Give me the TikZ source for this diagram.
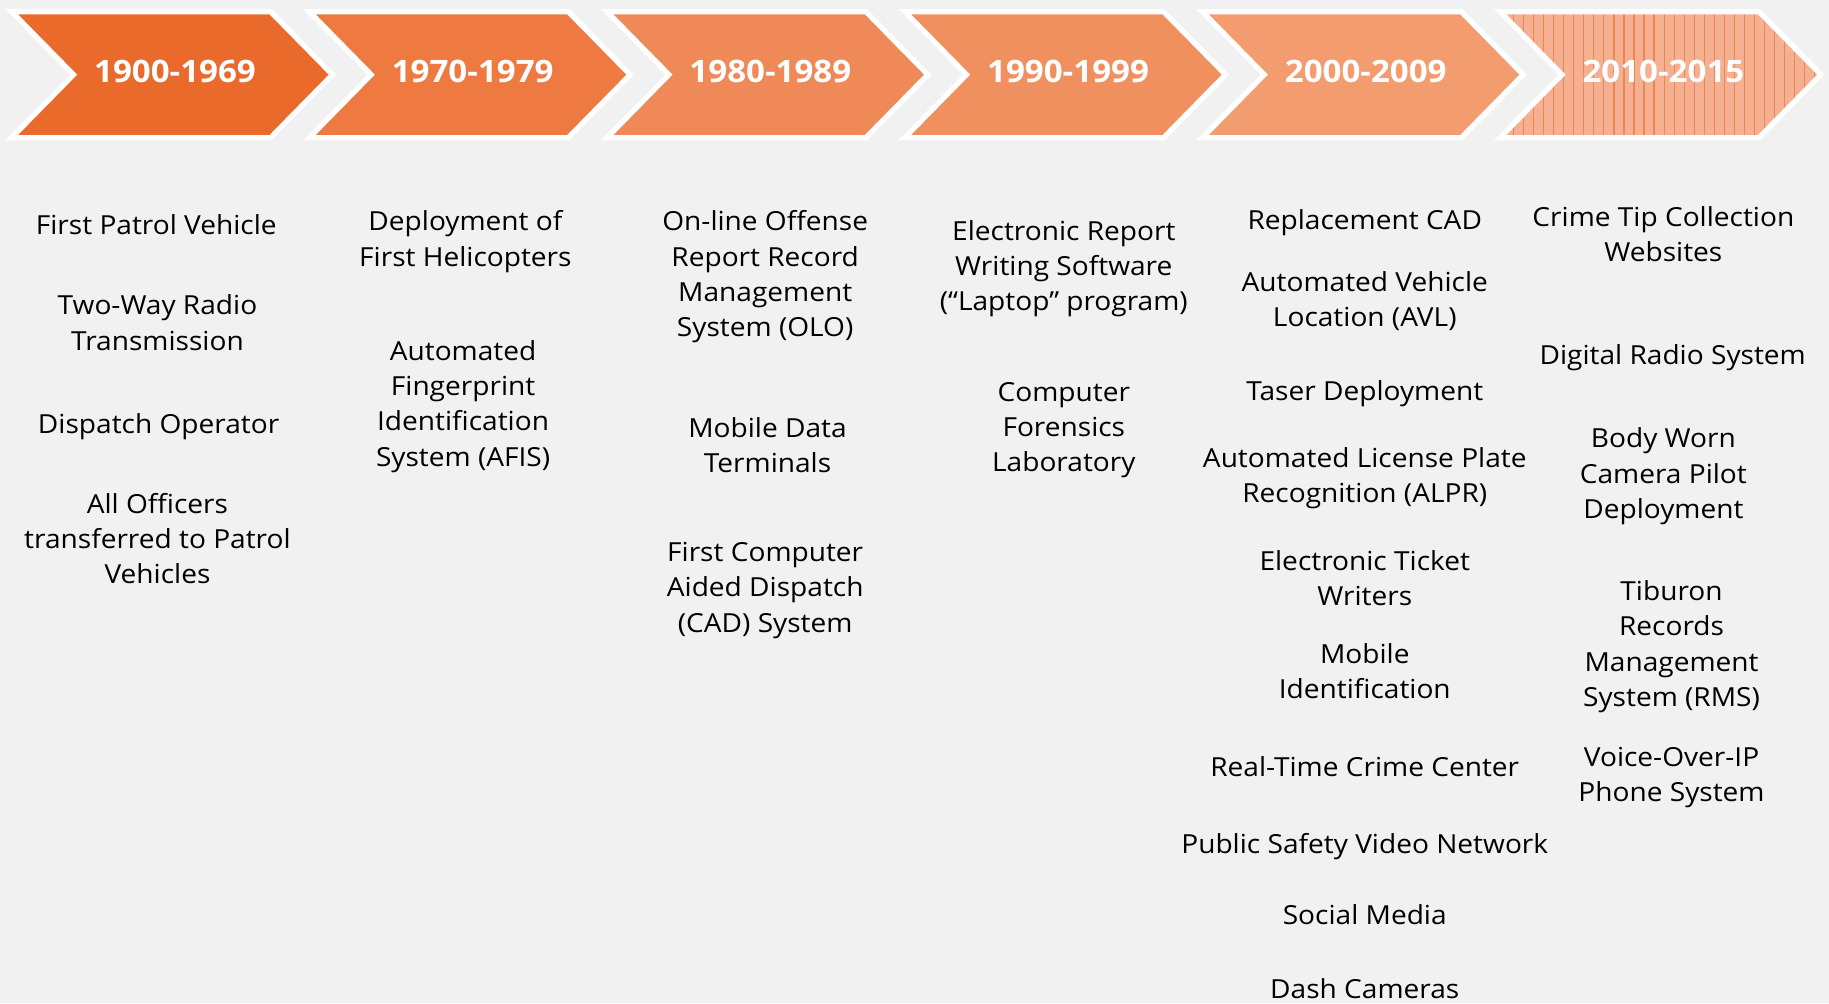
\documentclass[tikz,border=0pt]{standalone}
\usepackage{fontspec}
\setmainfont{Open Sans}[FakeStretch=1.07]
\definecolor{bgc}{HTML}{F1F1F1}
\definecolor{ca}{HTML}{EA6A2B}
\definecolor{cb}{HTML}{EE7A41}
\definecolor{cc}{HTML}{EF8A58}
\definecolor{cd}{HTML}{F0905F}
\definecolor{ce}{HTML}{F29C70}
\definecolor{cf}{HTML}{F4B090}
\definecolor{cline}{HTML}{EF8550}
\begin{document}
\begin{tikzpicture}[x=1pt,y=-1pt,
  chev/.style={draw=white,line width=4.5pt,line join=miter},
  yr/.style={text=white,font={\fontsize{26.5}{30}\selectfont\bfseries},inner sep=0pt},
  itm/.style={font={\fontsize{22.5}{30.3}\selectfont},align=center,inner sep=0pt,
    anchor=north,yshift=10.5pt,execute at begin node={\rule{0pt}{20pt}}},
  ln6/.style={draw=cline,line width=1pt}]
\useasboundingbox (0,0) rectangle (1568,860);
\fill[bgc] (0,0) rectangle (1568,860);
% chevrons
\foreach \i/\col/\yr in {0/ca/1900-1969,1/cb/1970-1979,2/cc/1980-1989,3/cd/1990-1999,4/ce/2000-2009,5/cf/2010-2015}{
  \pgfmathsetmacro\L{10+255.2*\i}
  \fill[\col] (\L,10) -- ++(222,0) -- ++(53,54) -- ++(-53,54) -- ++(-222,0) -- ++(53,-54) -- cycle;
  \ifnum\i=5
    \begin{scope}
      \clip (\L,10) -- ++(222,0) -- ++(53,54) -- ++(-53,54) -- ++(-222,0) -- ++(53,-54) -- cycle;
      \foreach \k in {0,...,32}{\draw[ln6] (\L+3+\k*8.6,10) -- ++(0,108);}
    \end{scope}
  \fi
  \draw[chev] (\L,10) -- ++(222,0) -- ++(53,54) -- ++(-53,54) -- ++(-222,0) -- ++(53,-54) -- cycle;
  \node[yr] (yr\i) at (\L+140,61.5) {\yr};
}
% column 1
\node[itm] (a1) at (134,191) {First Patrol Vehicle};
\node[itm] (a2) at (135,263) {Two-Way Radio\\Transmission};
\node[itm] (a3) at (136,362) {Dispatch Operator};
\node[itm] (a4) at (135,433) {All Officers\\transferred to Patrol\\Vehicles};
% column 2
\node[itm] (b1) at (399,191) {Deployment of\\First Helicopters};
\node[itm] (b2) at (397,302) {Automated\\Fingerprint\\Identification\\System (AFIS)};
% column 3
\node[itm] (c1) at (656,191) {On-line Offense\\Report Record\\Management\\System (OLO)};
\node[itm] (c2) at (658,368) {Mobile Data\\Terminals};
\node[itm] (c3) at (656,475) {First Computer\\Aided Dispatch\\(CAD) System};
% column 4
\node[itm] (d1) at (912,199) {Electronic Report\\Writing Software\\(“Laptop” program)};
\node[itm] (d2) at (912,338) {Computer\\Forensics\\Laboratory};
% column 5
\node[itm] (e1) at (1170,187) {Replacement CAD};
\node[itm] (e2) at (1170,243) {Automated Vehicle\\Location (AVL)};
\node[itm] (e3) at (1170,334) {Taser Deployment};
\node[itm] (e4) at (1170,394) {Automated License Plate\\Recognition (ALPR)};
\node[itm] (e5) at (1170,482) {Electronic Ticket\\Writers};
\node[itm] (e6) at (1170,562) {Mobile\\Identification};
\node[itm] (e7) at (1170,656) {Real-Time Crime Center};
\node[itm] (e8) at (1170,722) {Public Safety Video Network};
\node[itm] (e9) at (1170,783) {Social Media};
\node[itm] (e10) at (1170,846) {Dash Cameras};
% column 6
\node[itm] (f1) at (1426,187) {Crime Tip Collection\\Websites};
\node[itm] (f2) at (1434,303) {Digital Radio System};
\node[itm] (f3) at (1426,377) {Body Worn\\Camera Pilot\\Deployment};
\node[itm] (f4) at (1433,508) {Tiburon\\Records\\Management\\System (RMS)};
\node[itm] (f5) at (1433,651) {Voice-Over-IP\\Phone System};
\end{tikzpicture}
\end{document}
